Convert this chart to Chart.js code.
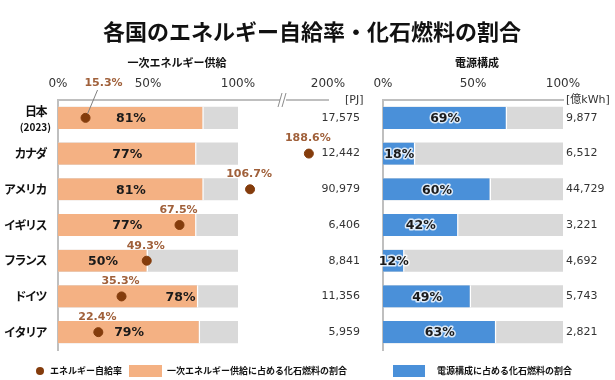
<!DOCTYPE html>
<html>
<head>
<meta charset="utf-8">
<script src="https://cdn.jsdelivr.net/npm/chart.js@4.4.0/dist/chart.umd.min.js"></script>
<style>
html, body { margin: 0; padding: 0; background: #fff; }
#wrap { position: relative; width: 615px; height: 380px; overflow: hidden; }
canvas { position: absolute; left: 0; top: 0; }
.t { position: absolute; white-space: nowrap; font-weight: bold; color: #111; font-family: "Noto Sans CJK JP", sans-serif; }
.title { left: 0; width: 624px; text-align: center; top: 18px; font-size: 22px; line-height: 24px; }
.sub { font-size: 11px; line-height: 14px; top: 55px; transform: translateX(-50%); }
.lg { font-size: 9px; line-height: 12px; top: 365px; }
.sw { position: absolute; }
</style>
</head>
<body>
<div id="wrap">
  <canvas id="left" width="615" height="380"></canvas>
  <canvas id="right" width="615" height="380"></canvas>
  <div class="t title">各国のエネルギー自給率・化石燃料の割合</div>
  <div class="t sub" style="left:177px">一次エネルギー供給</div>
  <div class="t sub" style="left:477px">電源構成</div>
  <div class="sw" style="left:36px;top:367px;width:8px;height:8px;border-radius:50%;background:#843C0C"></div>
  <div class="t lg" style="left:50px">エネルギー自給率</div>
  <div class="sw" style="left:129px;top:365px;width:33px;height:12px;background:#F4B183"></div>
  <div class="t lg" style="left:167px">一次エネルギー供給に占める化石燃料の割合</div>
  <div class="sw" style="left:393px;top:365px;width:32px;height:12px;background:#4A90D9"></div>
  <div class="t lg" style="left:437px">電源構成に占める化石燃料の割合</div>
</div>
<script>
// data
const countries = [['日本', '(2023)'], 'カナダ', 'アメリカ', 'イギリス', 'フランス', 'ドイツ', 'イタリア'];
const selfRate = [15.3, 188.6, 106.7, 67.5, 49.3, 35.3, 22.4];        // エネルギー自給率 %
const fossilPrimary = [81, 77, 81, 77, 50, 78, 79];                  // 一次エネルギー供給に占める化石燃料 %
const primarySupply = [17575, 12442, 90979, 6406, 8841, 11356, 5959]; // PJ
const fossilPower = [69, 18, 60, 42, 12, 49, 63];                    // 電源構成に占める化石燃料 %
const powerGen = [9877, 6512, 44729, 3221, 4692, 5743, 2821];        // 億kWh
const leftTicks = ['0%', '50%', '100%', '200%'];
const rightTicks = ['0%', '50%', '100%'];

const FONT = '"DejaVu Sans", "Noto Sans CJK JP", sans-serif';
const JPFONT = '"Noto Sans CJK JP", sans-serif';
const ORANGE = '#F4B183', BLUE = '#4A90D9', GREY = '#D9D9D9', DOT = '#843C0C', DOTTXT = '#A0603A';

// axis is broken above 125%
const brk = v => v <= 125 ? v : 125 + (v - 125) * 0.226;

function fixedTicks(values) {
    return s => { s.ticks = values.map(v => ({ value: v })); };
}

const annotate = {
    id: 'annotate',
    afterDatasetsDraw(chart, args, opts) {
        const ctx = chart.ctx;
        const bars = chart.getDatasetMeta(opts.barIndex).data;
        const dots = opts.dotIndex != null ? chart.getDatasetMeta(opts.dotIndex).data : null;
        ctx.save();
        ctx.textBaseline = 'middle';

        bars.forEach((bar, i) => {
            const val = chart.data.datasets[opts.barIndex].data[i];
            let cx = (bar.x + bar.base) / 2;
            ctx.font = 'bold 12.5px ' + FONT;
            let align = 'center';
            if (dots && Math.abs(dots[i].x - cx) < 28) { cx = bar.x - 3; align = 'right'; }
            ctx.textAlign = align;
            if (opts.halo) {
                ctx.lineWidth = 3;
                ctx.strokeStyle = 'rgba(255,255,255,0.8)';
                ctx.lineJoin = 'round';
                ctx.strokeText(val + '%', cx, bar.y + 1);
            }
            ctx.fillStyle = '#1a1a1a';
            ctx.fillText(val + '%', cx, bar.y + 1);

            // value column
            ctx.font = '11px ' + FONT;
            ctx.fillStyle = '#333';
            ctx.textAlign = opts.colAlign;
            ctx.fillText(opts.column[i].toLocaleString('en-US'), opts.colX, bar.y);
        });

        // category names (tighter spacing, like the proportional original font)
        if (opts.names) {
            const y = chart.scales.y;
            ctx.fillStyle = '#111';
            ctx.textAlign = 'right';
            ctx.letterSpacing = '-1.5px';
            chart.data.labels.forEach((lab, i) => {
                const py = y.getPixelForTick(i);
                if (Array.isArray(lab)) {
                    ctx.font = 'bold 12px ' + JPFONT;
                    ctx.fillText(lab[0], 46, py - 6);
                    ctx.letterSpacing = '0px';
                    ctx.font = 'bold 10px ' + JPFONT;
                    ctx.fillText(lab[1], 51, py + 9);
                    ctx.letterSpacing = '-1.5px';
                } else {
                    ctx.font = 'bold 12px ' + JPFONT;
                    ctx.fillText(lab, 46, py);
                }
            });
            ctx.letterSpacing = '0px';
        }

        if (dots) {
            ctx.font = 'bold 11px ' + FONT;
            ctx.fillStyle = DOTTXT;
            ctx.textAlign = 'center';
            dots.forEach((p, i) => {
                const txt = selfRate[i].toFixed(1) + '%';
                if (i === 0) {
                    // label sits above the axis with a leader line
                    ctx.fillText(txt, p.x + 18, chart.chartArea.top - 17);
                    ctx.strokeStyle = '#7f7f7f';
                    ctx.lineWidth = 1;
                    ctx.beginPath();
                    ctx.moveTo(p.x + 12, chart.chartArea.top - 10);
                    ctx.lineTo(p.x + 2, p.y - 4);
                    ctx.stroke();
                } else {
                    ctx.fillText(txt, p.x - 1, p.y - 15);
                }
            });

            // axis break mark
            const xs = chart.scales.x.getPixelForValue(125);
            const top = chart.chartArea.top;
            ctx.fillStyle = '#fff';
            ctx.fillRect(xs - 3, top - 4, 6, 8);
            ctx.strokeStyle = '#8c8c8c';
            ctx.lineWidth = 1;
            ctx.beginPath();
            ctx.moveTo(xs - 5, top + 7); ctx.lineTo(xs - 1, top - 7);
            ctx.moveTo(xs - 1, top + 7); ctx.lineTo(xs + 3, top - 7);
            ctx.stroke();
        }

        // unit label
        ctx.font = '11px ' + FONT;
        ctx.fillStyle = '#333';
        ctx.textAlign = 'left';
        ctx.fillText(opts.unit, opts.unitX, chart.chartArea.top);
        ctx.restore();
    }
};

function xScale(max, ticks, labels) {
    return {
        type: 'linear', position: 'top', min: 0, max: max,
        grid: { display: false, drawTicks: false },
        border: { color: '#BFBFBF', width: 2 },
        afterBuildTicks: fixedTicks(ticks),
        afterFit: s => { s.height = 30; },
        ticks: {
            padding: 9, color: '#333', font: { family: FONT, size: 12 },
            callback: (v, i) => labels[i]
        }
    };
}

function yScale(width) {
    return {
        grid: { display: false, drawTicks: false },
        border: { color: '#BFBFBF', width: 2 },
        afterFit: s => { s.width = width; },
        ticks: { display: false }
    };
}

new Chart(document.getElementById('left'), {
    type: 'bar',
    data: {
        labels: countries,
        datasets: [
            {
                type: 'line', indexAxis: 'y', data: selfRate.map(brk), showLine: false,
                pointRadius: 4.5, pointBackgroundColor: DOT, pointBorderColor: DOT, order: 0
            },
            {
                data: fossilPrimary, backgroundColor: ORANGE, grouped: false, order: 1,
                borderColor: '#fff', borderWidth: { right: 1.5 }, borderSkipped: 'left',
                barPercentage: 0.62, categoryPercentage: 1
            },
            {
                data: countries.map(() => 100), backgroundColor: GREY, grouped: false, order: 2,
                barPercentage: 0.62, categoryPercentage: 1
            }
        ]
    },
    options: {
        indexAxis: 'y',
        responsive: false,
        animation: false,
        layout: { padding: { left: 0, top: 70, right: 287, bottom: 30 } },
        plugins: {
            legend: { display: false },
            tooltip: { enabled: false },
            annotate: { barIndex: 1, dotIndex: 0, names: true, column: primarySupply, colX: 360, colAlign: 'right', unit: '[PJ]', unitX: 345 }
        },
        scales: {
            x: xScale(150, [0, 50, 100, 150], leftTicks),
            y: yScale(58)
        }
    },
    plugins: [annotate]
});

new Chart(document.getElementById('right'), {
    type: 'bar',
    data: {
        labels: countries,
        datasets: [
            {
                data: fossilPower, backgroundColor: BLUE, grouped: false, order: 1,
                borderColor: '#fff', borderWidth: { right: 1.5 }, borderSkipped: 'left',
                barPercentage: 0.62, categoryPercentage: 1
            },
            {
                data: countries.map(() => 100), backgroundColor: GREY, grouped: false, order: 2,
                barPercentage: 0.62, categoryPercentage: 1
            }
        ]
    },
    options: {
        indexAxis: 'y',
        responsive: false,
        animation: false,
        layout: { padding: { left: 383, top: 70, right: 52, bottom: 30 } },
        plugins: {
            legend: { display: false },
            tooltip: { enabled: false },
            annotate: { barIndex: 0, halo: true, column: powerGen, colX: 566, colAlign: 'left', unit: '[億kWh]', unitX: 566 }
        },
        scales: {
            x: xScale(100, [0, 50, 100], rightTicks),
            y: yScale(0)
        }
    },
    plugins: [annotate]
});
</script>
</body>
</html>
